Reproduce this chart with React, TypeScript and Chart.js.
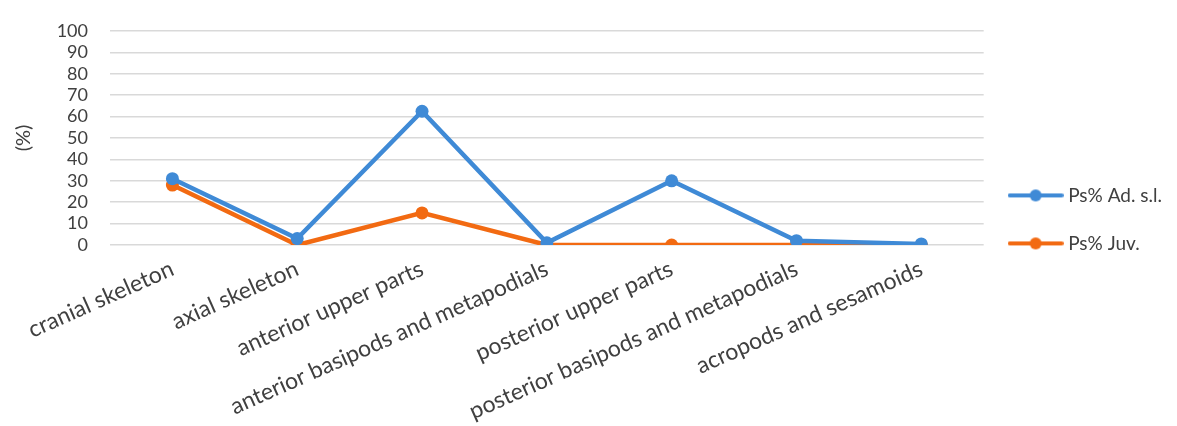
import React, { useEffect, useRef } from "react";
import { Chart, registerables } from "chart.js";

Chart.register(...registerables);

const categories = [
  "cranial skeleton",
  "axial skeleton",
  "anterior upper parts",
  "anterior basipods and metapodials",
  "posterior upper parts",
  "posterior basipods and metapodials",
  "acropods and sesamoids",
];
const adultValues = [31, 3, 62.5, 1, 30, 2, 0.5];
const juvValues = [28, 0, 15, 0, 0, 0, 0];
const seriesNames = ["Ps% Ad. s.l.", "Ps% Juv."];
const yTicks = [0, 10, 20, 30, 40, 50, 60, 70, 80, 90, 100];

const BLUE = "#3f8ad6";
const ORANGE = "#f26a12";
const TEXT = "#404040";
const FONT = "Lato, 'Open Sans', sans-serif";

function markerCanvas(color: string): HTMLCanvasElement {
  const c = document.createElement("canvas");
  c.width = 56;
  c.height = 14;
  const ctx = c.getContext("2d")!;
  ctx.strokeStyle = color;
  ctx.lineWidth = 4;
  ctx.lineCap = "round";
  ctx.beginPath();
  ctx.moveTo(2, 7);
  ctx.lineTo(54, 7);
  ctx.stroke();
  ctx.fillStyle = color;
  ctx.beginPath();
  ctx.arc(28, 7, 6, 0, Math.PI * 2);
  ctx.fill();
  return c;
}

export default function App() {
  const ref = useRef<HTMLCanvasElement>(null);
  useEffect(() => {
    if (!ref.current) return;
    const colors = [BLUE, ORANGE];
    const mk = (label: string, data: number[], color: string) => ({
      label,
      data,
      borderColor: color,
      backgroundColor: color,
      borderWidth: 4.5,
      pointRadius: 6.5,
      pointBackgroundColor: color,
      pointBorderWidth: 0,
      tension: 0,
    });
    const chart = new Chart(ref.current, {
      type: "line",
      data: {
        labels: categories,
        datasets: [
          mk(seriesNames[0], adultValues, BLUE),
          mk(seriesNames[1], juvValues, ORANGE),
        ],
      },
      options: {
        animation: false,
        responsive: false,
        layout: { padding: { top: -4, right: 5, left: 0, bottom: 0 } },
        scales: {
          x: {
            offset: true,
            grid: { display: false, drawTicks: false },
            border: { display: false },
            afterFit: (scale: any) => {
              scale.height = 181;
            },
            ticks: {
              autoSkip: false,
              minRotation: 24,
              maxRotation: 24,
              padding: 10,
              color: TEXT,
              font: { family: FONT, size: 23 },
            },
          },
          y: {
            min: 0,
            max: 100,
            afterBuildTicks: (axis: any) => {
              axis.ticks = yTicks.map((v) => ({ value: v }));
            },
            afterFit: (scale: any) => {
              scale.width = 110;
            },
            grid: { color: "#d9d9d9", lineWidth: 1.5, drawTicks: false },
            border: { display: false },
            ticks: {
              autoSkip: false,
              padding: 22,
              color: TEXT,
              font: { family: FONT, size: 18, lineHeight: 1 },
            },
            title: {
              display: true,
              text: "(%)",
              color: TEXT,
              font: { family: FONT, size: 20 },
              padding: { top: 12, bottom: 0 },
            },
          },
        },
        plugins: {
          tooltip: { enabled: false },
          legend: {
            position: "right",
            align: "center",
            title: { display: true, text: " ", padding: 0, font: { family: FONT, size: 14 } },
            labels: {
              usePointStyle: true,
              pointStyleWidth: 46,
              boxHeight: 19,
              padding: 29,
              color: TEXT,
              font: { family: FONT, size: 19 },
              generateLabels: (ch: any) =>
                ch.data.datasets.map((ds: any, i: number) => ({
                  text: ds.label,
                  pointStyle: markerCanvas(colors[i]),
                  fillStyle: colors[i],
                  strokeStyle: colors[i],
                  lineWidth: 0,
                  hidden: false,
                  datasetIndex: i,
                  fontColor: TEXT,
                })),
            },
          },
        },
      },
    } as any);
    return () => chart.destroy();
  }, []);
  return (
    <div style={{ position: "absolute", left: 0, top: 0, width: 1177, height: 426, background: "#fff" }}>
      <canvas ref={ref} width={1177} height={426} style={{ display: "block" }} />
    </div>
  );
}
